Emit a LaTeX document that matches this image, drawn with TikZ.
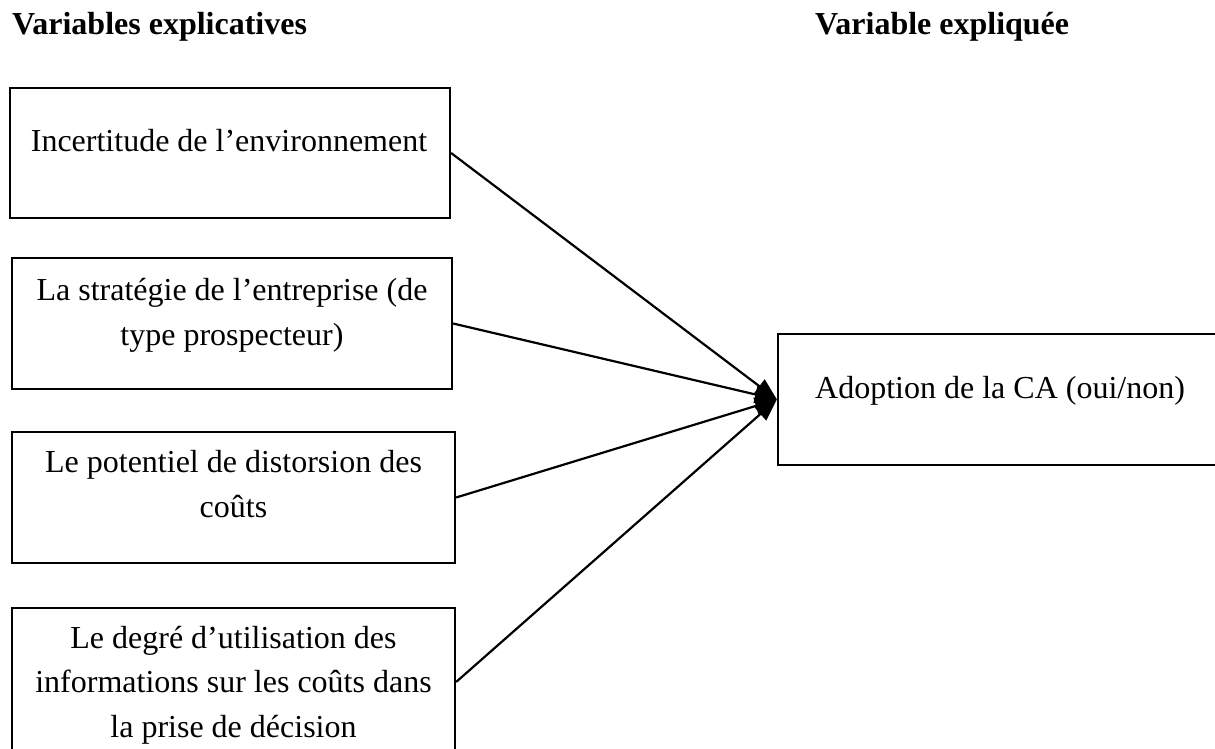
\documentclass[tikz,border=0pt]{standalone}
\usepackage{fontspec}
\setmainfont{Liberation Serif}
\usetikzlibrary{arrows.meta}
\begin{document}
\begin{tikzpicture}[x=1pt,y=-1pt,
  varbox/.style={draw=black, line width=2.2pt, rectangle, inner sep=0pt},
  boxtext/.style={anchor=base, align=center, inner sep=0pt,
    font=\fontsize{32}{44.5}\selectfont},
  heading/.style={anchor=base west, inner sep=0pt,
    font=\fontsize{32}{36}\selectfont\bfseries},
  link/.style={line width=2.2pt, -{Triangle[length=22pt,width=17pt]}}]
\useasboundingbox (0,0) rectangle (1215,749);
\fill[white] (0,0) rectangle (1215,749);

% column headings
\node[heading] (hx) at (12,35) {Variables explicatives};
\node[heading] (hy) at (815,35) {Variable expliquée};

% explanatory variables (text anchored on the baseline of its last line)
\node[varbox, minimum width=440pt, minimum height=130pt] (b1) at (230,153) {};
\node[boxtext] (t1) at (229,152) {Incertitude de l’environnement};

\node[varbox, minimum width=440pt, minimum height=131pt] (b2) at (232,323.5) {};
\node[boxtext] (t2) at (232,345) {La stratégie de l’entreprise (de\\type prospecteur)};

\node[varbox, minimum width=443pt, minimum height=131pt] (b3) at (233.5,497.5) {};
\node[boxtext] (t3) at (233.5,517) {Le potentiel de distorsion des\\coûts};

\node[varbox, minimum width=443pt, minimum height=148pt] (b4) at (233.5,682) {};
\node[boxtext] (t4) at (233.5,737) {Le degré d’utilisation des\\informations sur les coûts dans\\la prise de décision};

% explained variable
\node[varbox, minimum width=460pt, minimum height=131pt] (ca) at (1008,399.5) {};
\node[boxtext, anchor=base west] (tca) at (815,398) {Adoption de la CA (oui/non)};

% links
\draw[link] (b1.east) -- (ca.west);
\draw[link] (b2.east) -- (ca.west);
\draw[link] (b3.east) -- (ca.west);
\draw[link] (b4.east) -- (ca.west);
\end{tikzpicture}
\end{document}
